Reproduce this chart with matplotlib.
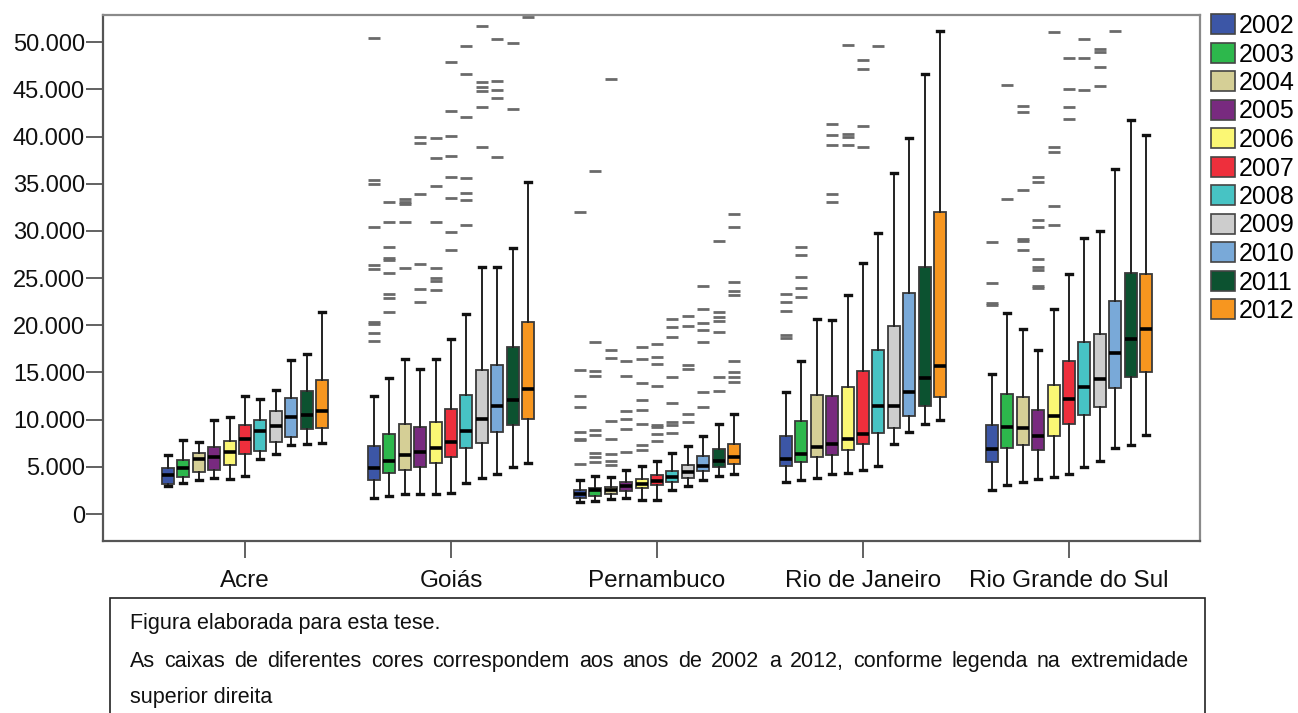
import matplotlib

matplotlib.use("Agg")
import matplotlib.pyplot as plt
from matplotlib.patches import Patch, Rectangle

plt.rcParams["font.family"] = ["Liberation Sans", "DejaVu Sans"]

YEARS = ["2002", "2003", "2004", "2005", "2006", "2007",
         "2008", "2009", "2010", "2011", "2012"]
STATES = ["Acre", "Goiás", "Pernambuco", "Rio de Janeiro", "Rio Grande do Sul"]
YEAR_COLORS = ["#3C56A6", "#2DB84C", "#D5CF96", "#782A7F", "#FBF774",
               "#EE2F3C", "#47C3C4", "#CDCDCD", "#79A9D8", "#0C5230", "#F7961F"]

# one row per year: lower whisker, q1, median, q3, upper whisker
ACRE = [
    (2920, 3180, 4090, 4870, 6280),
    (3280, 3920, 4870, 5750, 7870),
    (3630, 4450, 5830, 6420, 7660),
    (3810, 4660, 6040, 7060, 9990),
    (3710, 5220, 6530, 7730, 10300),
    (4060, 6390, 7940, 9390, 12560),
    (5860, 6710, 8790, 9990, 12210),
    (6360, 7660, 9350, 10970, 13130),
    (7340, 8160, 10230, 12250, 16340),
    (7410, 9000, 10520, 13030, 16980),
    (7480, 9110, 10870, 14190, 21400),
]
GOIAS = [
    (1650, 3630, 4870, 7230, 12530),
    (1940, 4340, 5650, 8510, 14370),
    (2080, 4690, 6280, 9490, 16420),
    (2080, 4980, 6530, 9250, 15390),
    (2150, 5400, 7020, 9780, 16420),
    (2180, 6040, 7660, 11120, 18540),
    (3280, 6990, 8820, 12610, 21250),
    (3810, 7480, 10060, 15250, 26230),
    (4270, 8650, 11500, 15820, 26230),
    (4940, 9460, 12080, 17650, 28180),
    (5400, 10100, 13270, 20340, 35230),
]
PERNAMBUCO = [
    (1230, 1690, 2120, 2500, 3630),
    (1380, 1860, 2540, 2750, 3980),
    (1590, 2120, 2500, 2860, 3920),
    (1690, 2390, 2920, 3390, 4690),
    (1510, 2750, 3210, 3710, 5120),
    (1440, 3030, 3450, 4090, 5570),
    (2570, 3390, 3920, 4590, 6460),
    (2920, 3810, 4450, 5220, 7200),
    (3560, 4510, 5120, 6180, 8290),
    (3980, 4980, 5570, 6840, 9570),
    (4270, 5300, 6000, 7450, 10590),
]
RIO_DE_JANEIRO = [
    (3350, 5050, 5830, 8220, 12960),
    (3560, 5510, 6390, 9850, 16240),
    (3850, 6070, 7130, 12610, 20660),
    (4200, 6280, 7370, 12560, 20580),
    (4300, 6810, 7940, 13410, 23230),
    (4660, 7370, 8430, 15110, 26590),
    (5120, 8580, 11440, 17370, 29830),
    (7450, 9140, 11400, 19980, 36190),
    (8720, 10440, 12920, 23440, 39860),
    (9490, 11470, 14410, 26230, 46610),
    (9960, 12430, 15640, 32050, 51230),
]
RIO_GRANDE_DO_SUL = [
    (2570, 5470, 6840, 9430, 14830),
    (3100, 6950, 9170, 12740, 21290),
    (3420, 7270, 9110, 12350, 19600),
    (3710, 6810, 8220, 11050, 17400),
    (3950, 8290, 10340, 13700, 21780),
    (4270, 9570, 12140, 16240, 25460),
    (5010, 10520, 13410, 18280, 29270),
    (5610, 11330, 14330, 19130, 29980),
    (7020, 13350, 17090, 22590, 36550),
    (7310, 14510, 18540, 25560, 41800),
    (8330, 15040, 19660, 25460, 40180),
]

# outliers per year
ACRE_OUT = [[] for _ in YEARS]
GOIAS_OUT = [
    [50490, 35410, 34990, 30400, 26410, 25950, 20300, 20100, 19170, 18360],
    [33050, 30930, 28350, 27120, 26940, 25530, 23340, 22880, 21360],
    [33400, 33110, 32870, 30930, 26120],
    [40000, 39300, 33900, 26510, 23830, 22520],
    [39830, 37710, 34810, 31000, 26060, 25000, 24700, 23760],
    [47880, 42750, 40070, 37990, 35760, 33470, 29940, 28000],
    [49640, 46610, 42120, 35590, 34000, 33290, 30650],
    [51730, 45830, 45300, 44840, 43180, 38940],
    [50310, 45900, 44910, 44130, 37880],
    [49890, 42930],
    [52650],
]
PERNAMBUCO_OUT = [
    [32050, 15290, 12460, 11290, 8690, 7950, 7800, 5300],
    [36400, 18280, 15210, 14680, 8930, 8370, 6460, 6000, 5470],
    [46110, 17400, 16520, 9810, 7980, 6360, 5570, 5150],
    [16270, 14650, 10870, 10100, 9040, 6530],
    [17750, 16450, 13880, 12110, 11050, 9570, 7270, 6740],
    [18070, 16630, 15920, 13520, 9460, 9220, 8470, 7760],
    [20660, 19870, 18810, 14470, 11760, 9700, 9460, 8580],
    [21000, 19950, 15820, 15390, 10620, 9700],
    [24220, 21750, 20230, 19520, 18280, 12880, 11290],
    [28920, 21460, 20930, 20480, 19280, 14510, 12990],
    [31810, 30430, 24580, 23690, 23230, 16170, 15040, 14510, 14010],
]
RIO_DE_JANEIRO_OUT = [
    [23340, 22420, 21570, 18990, 18640],
    [28320, 27440, 25140, 23940, 23050],
    [],
    [41310, 40180, 39120, 33960, 33110],
    [49710, 40280, 40000, 39090],
    [48160, 47170, 41170, 38880],
    [49610],
    [], [], [], [],
]
RIO_GRANDE_DO_SUL_OUT = [
    [28810, 24470, 22350, 22150],
    [45480, 33370],
    [43290, 42580, 34350, 29200, 28980, 27970],
    [35730, 35170, 31140, 30470, 27010, 26230, 25810, 24200, 24000],
    [51060, 38910, 38410, 32660, 30610],
    [48370, 45050, 43110, 41910],
    [50350, 48370, 44910],
    [49290, 49010, 47380, 45400],
    [51200],
    [], [],
]

Y_TICKS = list(range(0, 50001, 5000))

CAPTION_LINES = [
    "Figura elaborada para esta tese.",
    "As caixas de diferentes cores correspondem aos anos de 2002 a 2012, conforme legenda na extremidade",
    "superior direita",
]

W, H = 1298, 713
STEP = 0.0748
BOX_W = 0.058
CAPTION_SIZE = 15.5


def fx(px):
    return px / W


def fy(py):
    return 1 - py / H


def draw_group(ax, center, rows, outliers):
    stats = []
    for (lo, q1, med, q3, hi), out in zip(rows, outliers):
        stats.append(dict(whislo=lo, q1=q1, med=med, q3=q3, whishi=hi, fliers=out))
    positions = [center + (j - 5) * STEP for j in range(len(rows))]
    parts = ax.bxp(
        stats, positions=positions, widths=BOX_W, capwidths=BOX_W * 0.5,
        patch_artist=True, showfliers=True, manage_ticks=False,
        boxprops=dict(edgecolor="#3a3a3a", linewidth=1.3),
        medianprops=dict(color="black", linewidth=2.6, solid_capstyle="butt"),
        whiskerprops=dict(color="#222222", linewidth=1.4),
        capprops=dict(color="#111111", linewidth=2.4),
        flierprops=dict(marker="_", markersize=8, markeredgewidth=2.0,
                        markeredgecolor="#6a6a6a", linestyle="none"),
    )
    for box, color in zip(parts["boxes"], YEAR_COLORS):
        box.set_facecolor(color)


def caption_line(fig, text, x, baseline):
    return fig.text(fx(x), fy(baseline), text, fontsize=CAPTION_SIZE,
                    color="#111111", va="baseline")


def draw_justified(fig, text, x0, x1, baseline):
    words = text.split()
    renderer = fig.canvas.get_renderer()
    items = [caption_line(fig, w, 0, baseline) for w in words]
    widths = [t.get_window_extent(renderer).width for t in items]
    gap = (x1 - x0 - sum(widths)) / (len(words) - 1)
    x = x0
    for t, wd in zip(items, widths):
        t.set_x(fx(x))
        x += wd + gap


fig = plt.figure(figsize=(W / 100, H / 100), dpi=100)
ax = fig.add_axes([fx(103), fy(541), fx(1200) - fx(103), fy(15) - fy(541)])

groups = [
    (ACRE, ACRE_OUT),
    (GOIAS, GOIAS_OUT),
    (PERNAMBUCO, PERNAMBUCO_OUT),
    (RIO_DE_JANEIRO, RIO_DE_JANEIRO_OUT),
    (RIO_GRANDE_DO_SUL, RIO_GRANDE_DO_SUL_OUT),
]
for i, (rows, outs) in enumerate(groups):
    draw_group(ax, i, rows, outs)

ax.set_xlim(-0.689, 4.636)
ax.set_ylim(-2860, 52890)
ax.set_xticks(range(len(STATES)))
ax.set_xticklabels(STATES, fontsize=17.5, color="#111111")
ax.set_yticks(Y_TICKS)
ax.set_yticklabels([f"{v:,}".replace(",", ".") for v in Y_TICKS],
                   fontsize=17, color="#111111")
ax.tick_params(axis="y", length=12, width=1.3, color="#555555", pad=1)
ax.tick_params(axis="x", length=12, width=1.3, color="#555555", pad=9)
for side, spine in ax.spines.items():
    spine.set_color("#555555" if side in ("left", "bottom") else "#8a8a8a")
    spine.set_linewidth(1.6)

handles = [Patch(facecolor=c, edgecolor="#444444", linewidth=1.2) for c in YEAR_COLORS]
fig.legend(handles, YEARS, loc="upper left", bbox_to_anchor=(fx(1211), fy(14)),
           frameon=False, fontsize=18, labelspacing=0.18, handlelength=0.95,
           handleheight=0.85, handletextpad=0.15, borderpad=0, borderaxespad=0)

fig.patches.append(Rectangle((fx(110), fy(720)), fx(1205) - fx(110), fy(598) - fy(720),
                             transform=fig.transFigure, fill=False,
                             edgecolor="#222222", linewidth=1.2))
caption_line(fig, CAPTION_LINES[0], 130, 629)
draw_justified(fig, CAPTION_LINES[1], 130, 1188, 667)
caption_line(fig, CAPTION_LINES[2], 130, 703)

fig.savefig("out.png", dpi=100)
